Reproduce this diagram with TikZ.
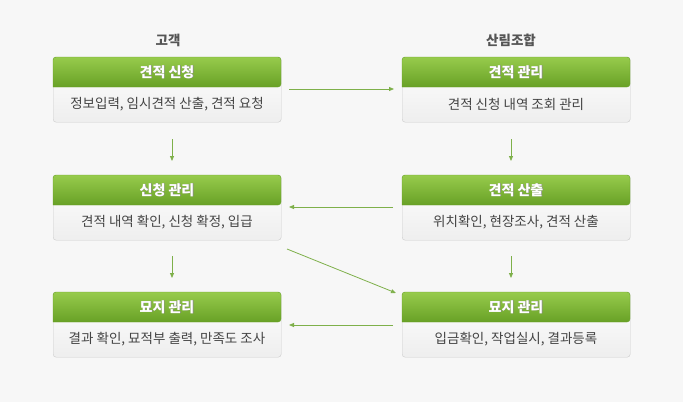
\documentclass[tikz,border=0pt]{standalone}
\usepackage{fontspec}
\setmainfont{Noto Sans CJK KR}
\usetikzlibrary{arrows.meta,shadows}
\definecolor{bg}{HTML}{F7F7F7}
\definecolor{gtop}{HTML}{97CB4C}
\definecolor{gbot}{HTML}{68A126}
\definecolor{btop}{HTML}{FFFFFF}
\definecolor{bbot}{HTML}{EEEEEE}
\definecolor{bord}{HTML}{CCCCCC}
\definecolor{arr}{HTML}{7EB04A}
\definecolor{txt}{HTML}{444444}
\definecolor{ttl}{HTML}{555555}
\begin{document}
\begin{tikzpicture}[x=1pt,y=-1pt,
  bodybox/.style={draw=bord,rounded corners=3pt,top color=btop,bottom color=bbot,minimum width=228pt,minimum height=65pt,anchor=north west,inner sep=0pt},
  headfont/.style={font=\bfseries\fontsize{14}{16}\selectfont,inner sep=0pt},
  bodytxt/.style={text=txt,font=\fontsize{13.5}{15}\selectfont,inner sep=0pt},
  coltitle/.style={text=ttl,font=\bfseries\fontsize{13.5}{15}\selectfont,inner sep=0pt},
  flow/.style={draw=arr,line width=0.8pt,-{Triangle[length=5pt,width=4pt]}}
]
\fill[bg] (0,0) rectangle (683,402);
\useasboundingbox (0,0) rectangle (683,402);
\node[coltitle] (t1) at (168,40) {고객};
\node[coltitle] (t2) at (511,40) {산림조합};
% boxes
\foreach \nm/\x/\y/\h/\b in {
  a/53/57/견적 신청/정보입력{,} 임시견적 산출{,} 견적 요청,
  b/402/57/견적 관리/견적 신청 내역 조회 관리,
  c/53/175/신청 관리/견적 내역 확인{,} 신청 확정{,} 입급,
  d/402/175/견적 산출/위치확인{,} 현장조사{,} 견적 산출,
  e/53/292/묘지 관리/결과 확인{,} 묘적부 출력{,} 만족도 조사,
  f/402/292/묘지 관리/입금확인{,} 작업실시{,} 결과등록}{
  \node[bodybox] (\nm) at (\x,\y) {};
  \path[draw=gbot,rounded corners=3pt,top color=gtop,bottom color=gbot]
    (\x,\y+30) -- (\x,\y) -- (\x+228,\y) -- (\x+228,\y+30) [sharp corners]-- cycle;
  \node[headfont,text=black!45] at (\x+114.7,\y+15.7) {\h};
  \node[headfont,text=white] (\nm h) at (\x+114,\y+15) {\h};
  \node[bodytxt] (\nm t) at (\x+114,\y+47.5) {\b};
}
\coordinate (a1) at (289,89); \coordinate (b1) at (394,89);
\draw[flow] (a1) -- (b1);
\coordinate (a2) at (172,139); \coordinate (c2) at (172,161);
\draw[flow] (a2) -- (c2);
\coordinate (b2) at (511,139); \coordinate (d2) at (511,161);
\draw[flow] (b2) -- (d2);
\coordinate (d3) at (393,207); \coordinate (c3) at (289,207);
\draw[flow] (d3) -- (c3);
\coordinate (c4) at (172,256); \coordinate (e4) at (172,278);
\draw[flow] (c4) -- (e4);
\coordinate (d4) at (511,256); \coordinate (f4) at (511,278);
\draw[flow] (d4) -- (f4);
\coordinate (c5) at (287,249); \coordinate (f5) at (396,293);
\draw[flow] (c5) -- (f5);
\coordinate (f6) at (393,325); \coordinate (e6) at (289,325);
\draw[flow] (f6) -- (e6);
\end{tikzpicture}
\end{document}
